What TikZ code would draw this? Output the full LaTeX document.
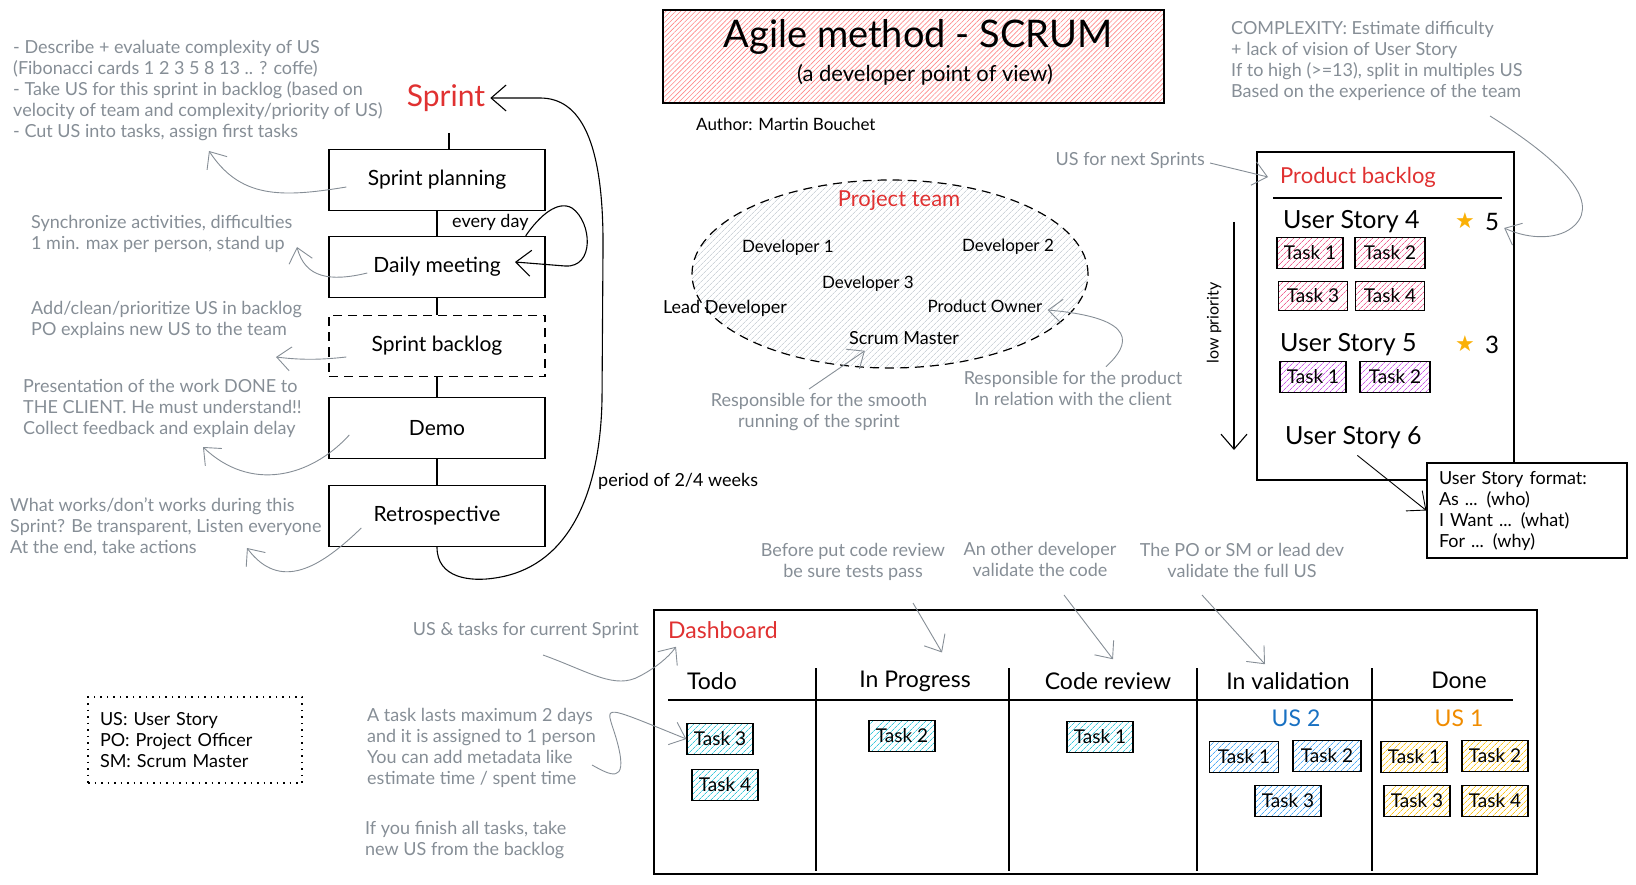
\documentclass[tikz,border=0pt]{standalone}
\usepackage{fontspec}
\setmainfont{Lato}
\newfontfamily\symf{DejaVu Sans}
\usetikzlibrary{arrows.meta,patterns.meta,shapes.geometric,calc}
\definecolor{annoc}{HTML}{868E96}
\definecolor{redt}{HTML}{E03131}
\definecolor{blut}{HTML}{1971C2}
\definecolor{orat}{HTML}{F08C00}
\definecolor{starc}{HTML}{FAB005}
\definecolor{hred}{HTML}{FF8787}
\definecolor{hgray}{HTML}{CED4DA}
\definecolor{hpink}{HTML}{F06595}
\definecolor{hpurp}{HTML}{CC5DE8}
\definecolor{hcyan}{HTML}{3BC9DB}
\definecolor{hblue}{HTML}{4DABF7}
\definecolor{hyell}{HTML}{FCC419}
\begin{document}
\begin{tikzpicture}[x=1pt,y=-1pt,
  anno/.style={text=annoc, font=\fontsize{18}{21}\selectfont, align=left, inner sep=0pt},
  annoctr/.style={anno, align=center},
  flow/.style={draw, line width=1.4pt, minimum width=216pt, minimum height=61pt, inner sep=2pt, font=\fontsize{21}{24}\selectfont},
  member/.style={font=\fontsize{17}{20}\selectfont, inner sep=0pt},
  head/.style={font=\fontsize{23}{26}\selectfont, inner sep=0pt},
  story/.style={anchor=west, font=\fontsize{25}{28}\selectfont, inner sep=0pt},
  garrow/.style={draw=annoc, line width=0.9pt, -{Straight Barb[length=14pt,width=24pt]}},
  barrow/.style={draw=black, line width=1.1pt, -{Straight Barb[length=15pt,width=26pt]}},
  hatch/.style={pattern={Lines[angle=45,distance=4pt,line width=0.7pt]}, pattern color=#1},
  task/.style={draw, line width=1.3pt, minimum width=66pt, minimum height=31pt, inner sep=0pt, font=\fontsize{19}{22}\selectfont},
  pinktask/.style={task, hatch=hpink},
  purptask/.style={task, hatch=hpurp},
  cyantask/.style={task, hatch=hcyan},
  bluetask/.style={task, hatch=hblue},
  yelltask/.style={task, hatch=hyell},
  redtitle/.style={text=redt, inner sep=0pt}
]
\useasboundingbox (0,0) rectangle (1636,885);

% ---------- Title ----------
\node[draw, line width=1.4pt, minimum width=501pt, minimum height=93pt, pattern={Lines[angle=45,distance=3.5pt,line width=0.6pt]}, pattern color=hred] (titlebox) at (913.5,56.5) {};
\node[font=\fontsize{38}{42}\selectfont, inner sep=0pt] (title) at (918,37) {Agile method - SCRUM};
\node[font=\fontsize{22}{25}\selectfont, inner sep=0pt] (subtitle) at (925,75) {(a developer point of view)};
\node[font=\fontsize{17}{20}\selectfont, anchor=west, inner sep=0pt] (author) at (696,124) {Author: Martin Bouchet};

% ---------- Sprint flow ----------
\node[redtitle, font=\fontsize{30}{32}\selectfont, inner sep=5pt] (sprint) at (446,98) {Sprint};
\coordinate (sfoot) at (449,133);
\node[flow] (spl) at (437,180) {Sprint planning};
\node[flow] (daily) at (437,267) {Daily meeting};
\node[flow, dash pattern=on 9pt off 6pt] (sbl) at (437,346) {Sprint backlog};
\node[flow] (demo) at (437,428) {Demo};
\node[flow] (retro) at (437,516) {Retrospective};

\draw[line width=1.2pt] (sfoot) -- (sfoot |- spl.north);
\draw[line width=1.2pt] (spl) -- (daily);
\draw[line width=1.2pt] (daily) -- (sbl);
\draw[line width=1.2pt] (sbl) -- (demo);
\draw[line width=1.2pt] (demo) -- (retro);

\node[anchor=west, font=\fontsize{18}{20}\selectfont, inner sep=0pt] (everyday) at (452,222) {every day};
\node[anchor=west, font=\fontsize{18}{20}\selectfont, inner sep=0pt] (period) at (598,481) {period of 2/4 weeks};

\draw[barrow] (retro.south) .. controls (437,578) and (470,582) .. (495,578)
  .. controls (565,568) and (600,500) .. (602,400) -- (603,250)
  .. controls (604,140) and (580,98) .. (540,98) -- (sprint.east);

\coordinate (dtip) at (515,262);
\draw[barrow] ($(daily.north east)+(-20,0)$) .. controls (540,215) and (558,200) .. (572,208)
  .. controls (592,222) and (595,268) .. (565,266) -- (dtip);

% ---------- Left annotations ----------
\node[anno, anchor=north west] (n1) at (13,40) {- Describe + evaluate complexity of US\\(Fibonacci cards 1 2 3 5 8 13 .. ? coffe)\\- Take US for this sprint in backlog (based on\\velocity of team and complexity/priority of US)\\- Cut US into tasks, assign first tasks};
\node[anno, anchor=north west] (n2) at (31,215) {Synchronize activities, difficulties\\1 min. max per person, stand up};
\node[anno, anchor=north west] (n3) at (31,301) {Add/clean/prioritize US in backlog\\PO explains new US to the team};
\node[anno, anchor=north west] (n4) at (23,379) {Presentation of the work DONE to\\THE CLIENT. He must understand!!\\Collect feedback and explain delay};
\node[anno, anchor=north west] (n5) at (10,498) {What works/don't works during this\\Sprint? Be transparent, Listen everyone\\At the end, take actions};

\coordinate (t1) at (209,151);
\coordinate (t2) at (297,247);
\coordinate (t3) at (276,357);
\coordinate (t4) at (203,447);
\coordinate (t5) at (247,548);
\draw[garrow] ($(spl.west)+(18,7)$) .. controls (280,198) and (240,198) .. (t1);
\draw[garrow] ($(daily.west)+(39,6)$) .. controls (330,282) and (305,278) .. (t2);
\draw[garrow] ($(sbl.west)+(18,11)$) .. controls (320,360) and (300,360) .. (t3);
\draw[garrow] ($(demo.west)+(21,7)$) .. controls (310,478) and (250,492) .. (t4);
\draw[garrow] ($(retro.west)+(33,12)$) .. controls (320,568) and (280,592) .. (t5);

% ---------- Legend ----------
\node[draw, line width=1.4pt, dash pattern=on 1.5pt off 5pt, minimum width=214pt, minimum height=86pt, align=left, text width=190pt, font=\fontsize{18}{21}\selectfont] (legend) at (195,740) {US: User Story\\PO: Project Officer\\SM: Scrum Master};

% ---------- Project team ----------
\node[ellipse, draw, line width=1.2pt, dash pattern=on 9pt off 6pt, minimum width=396pt, minimum height=188pt, hatch=hgray] (team) at (890,274) {};
\node[redtitle, font=\fontsize{22}{24}\selectfont] (teamt) at (899,200) {Project team};
\node[member] (dev1) at (788,248) {Developer 1};
\node[member] (dev2) at (1008,247) {Developer 2};
\node[member] (dev3) at (868,284) {Developer 3};
\node[member, font=\fontsize{18}{20}\selectfont] (lead) at (725,308) {Lead Developer};
\node[member] (po) at (985,306) {Product Owner};
\node[member, font=\fontsize{18}{20}\selectfont] (sm) at (904,338) {Scrum Master};

\node[annoctr] (smooth) at (819,412) {Responsible for the smooth\\running of the sprint};
\node[annoctr] (prod) at (1073,388) {Responsible for the product\\In relation with the client};
\draw[garrow] ($(smooth.north)+(-10,-4)$) -- ($(sm.south west)+(16,6)$);
\draw[garrow] ($(prod.north)+(33,-4)$) .. controls (1130,345) and (1140,318) .. ($(po.east)+(5,4)$);

% ---------- Product backlog ----------
\node[anno, anchor=east] (next) at (1205,160) {US for next Sprints};
\node[draw, line width=1.4pt, minimum width=257pt, minimum height=328pt] (pb) at (1385.5,316) {};
\node[redtitle, anchor=west, font=\fontsize{22}{25}\selectfont] (pbt) at (1280,177) {Product backlog};
\draw[garrow] (next.east) ++(5,3) -- ($(pbt.west)+(-12,0)$);
\draw[line width=1.3pt] (1273,198) -- (1502,198);

\node[story] (us4) at (1283,222) {User Story 4};
\node[text=starc, font=\symf\fontsize{22}{24}\selectfont, inner sep=0pt] (star4) at (1465,221) {★};
\node[font=\fontsize{24}{26}\selectfont, inner sep=0pt] (p4) at (1492,222) {5};
\node[pinktask] (t41) at (1310,253) {Task 1};
\node[pinktask, minimum width=70pt] (t42) at (1390,253) {Task 2};
\node[pinktask, minimum width=69pt, minimum height=29pt] (t43) at (1313,296) {Task 3};
\node[pinktask, minimum width=69pt, minimum height=29pt] (t44) at (1390,296) {Task 4};

\node[story] (us5) at (1280,345) {User Story 5};
\node[text=starc, font=\symf\fontsize{22}{24}\selectfont, inner sep=0pt] (star5) at (1465,344) {★};
\node[font=\fontsize{24}{26}\selectfont, inner sep=0pt] (p5) at (1492,345) {3};
\node[purptask] (t51) at (1313,377) {Task 1};
\node[purptask, minimum width=70pt] (t52) at (1395,377) {Task 2};

\node[story] (us6) at (1285,438) {User Story 6};

\coordinate (lpa) at (1234,222);
\coordinate (lpb) at (1234,450);
\draw[barrow] (lpa) -- (lpb);
\node[rotate=90, font=\fontsize{16}{18}\selectfont, inner sep=0pt] (lowp) at (1214,323) {low priority};

\node[anno, anchor=north west] (cplx) at (1231,21) {COMPLEXITY: Estimate difficulty\\+ lack of vision of User Story\\If to high (>=13), split in multiples US\\Based on the experience of the team};
\draw[garrow] (1490,116) .. controls (1560,160) and (1600,200) .. (1575,225)
  .. controls (1560,240) and (1530,240) .. ($(p4.east)+(5,6)$);

\node[draw, fill=white, line width=1.3pt, minimum width=200pt, minimum height=95pt, align=left, text width=176pt, font=\fontsize{18}{21}\selectfont] (fmt) at (1527,510.5) {User Story format:\\As ... (who)\\I Want ... (what)\\For ... (why)};
\draw[barrow, line width=0.9pt] ($(us6.south)+(4,6)$) -- (fmt.west);

% ---------- Dashboard ----------
\node[anno, anchor=east] (cur) at (639,630) {US \& tasks for current Sprint};
\node[draw, line width=1.4pt, minimum width=883pt, minimum height=264pt] (dash) at (1095.5,742) {};
\node[redtitle, anchor=west, font=\fontsize{23}{26}\selectfont] (dasht) at (668,630) {Dashboard};
\draw[garrow] (543,655) .. controls (590,672) and (615,690) .. (640,676)
  .. controls (655,668) and (668,658) .. ($(dasht.south west)+(8,8)$);

\draw[line width=1.4pt] (668,700) -- (1513,700);
\draw[line width=1.3pt] (816,668) -- (816,871);
\draw[line width=1.3pt] (1009,668) -- (1009,871);
\draw[line width=1.3pt] (1197,668) -- (1197,871);
\draw[line width=1.3pt] (1372,668) -- (1372,871);

\node[head] (htodo) at (712,681) {Todo};
\node[head] (hprog) at (915,681) {In Progress};
\node[head] (hrev) at (1108,681) {Code review};
\node[head] (hval) at (1288,681) {In validation};
\node[head] (hdone) at (1459,680) {Done};

\node[head, text=blut] (us2) at (1296,718) {US 2};
\node[head, text=orat] (us1) at (1459,718) {US 1};

\node[cyantask] (dt3) at (720,739) {Task 3};
\node[cyantask] (dt4) at (725,785) {Task 4};
\node[cyantask] (dp2) at (902,736) {Task 2};
\node[cyantask] (dc1) at (1100,737) {Task 1};
\node[bluetask, minimum width=69pt] (vt1) at (1244,757) {Task 1};
\node[bluetask, minimum width=68pt] (vt2) at (1327,756) {Task 2};
\node[bluetask] (vt3) at (1288,801) {Task 3};
\node[yelltask] (dn1) at (1414,757) {Task 1};
\node[yelltask] (dn2) at (1495,756) {Task 2};
\node[yelltask] (dn3) at (1417,801) {Task 3};
\node[yelltask] (dn4) at (1495,801) {Task 4};

\node[annoctr] (acr) at (853,562) {Before put code review\\be sure tests pass};
\node[annoctr] (adev) at (1040,559) {An other developer\\validate the code};
\node[annoctr] (apo) at (1242,560) {The PO or SM or lead dev\\validate the full US};
\draw[garrow] (913,603) -- ($(hprog.north)+(27,-18)$);
\draw[garrow] (1064,595) -- ($(hrev.north)+(5,-13)$);
\draw[garrow] (1202,595) -- ($(hval.north)+(-23,-8)$);

\node[anno, anchor=north west] (atask) at (367,708) {A task lasts maximum 2 days\\and it is assigned to 1 person\\You can add metadata like\\estimate time / spent time};
\node[anno, anchor=north west] (afin) at (365,821) {If you finish all tasks, take\\new US from the backlog};
\draw[garrow] (592,765) .. controls (610,775) and (628,785) .. (618,745)
  .. controls (608,705) and (590,700) .. (dt3.west);

\end{tikzpicture}
\end{document}
